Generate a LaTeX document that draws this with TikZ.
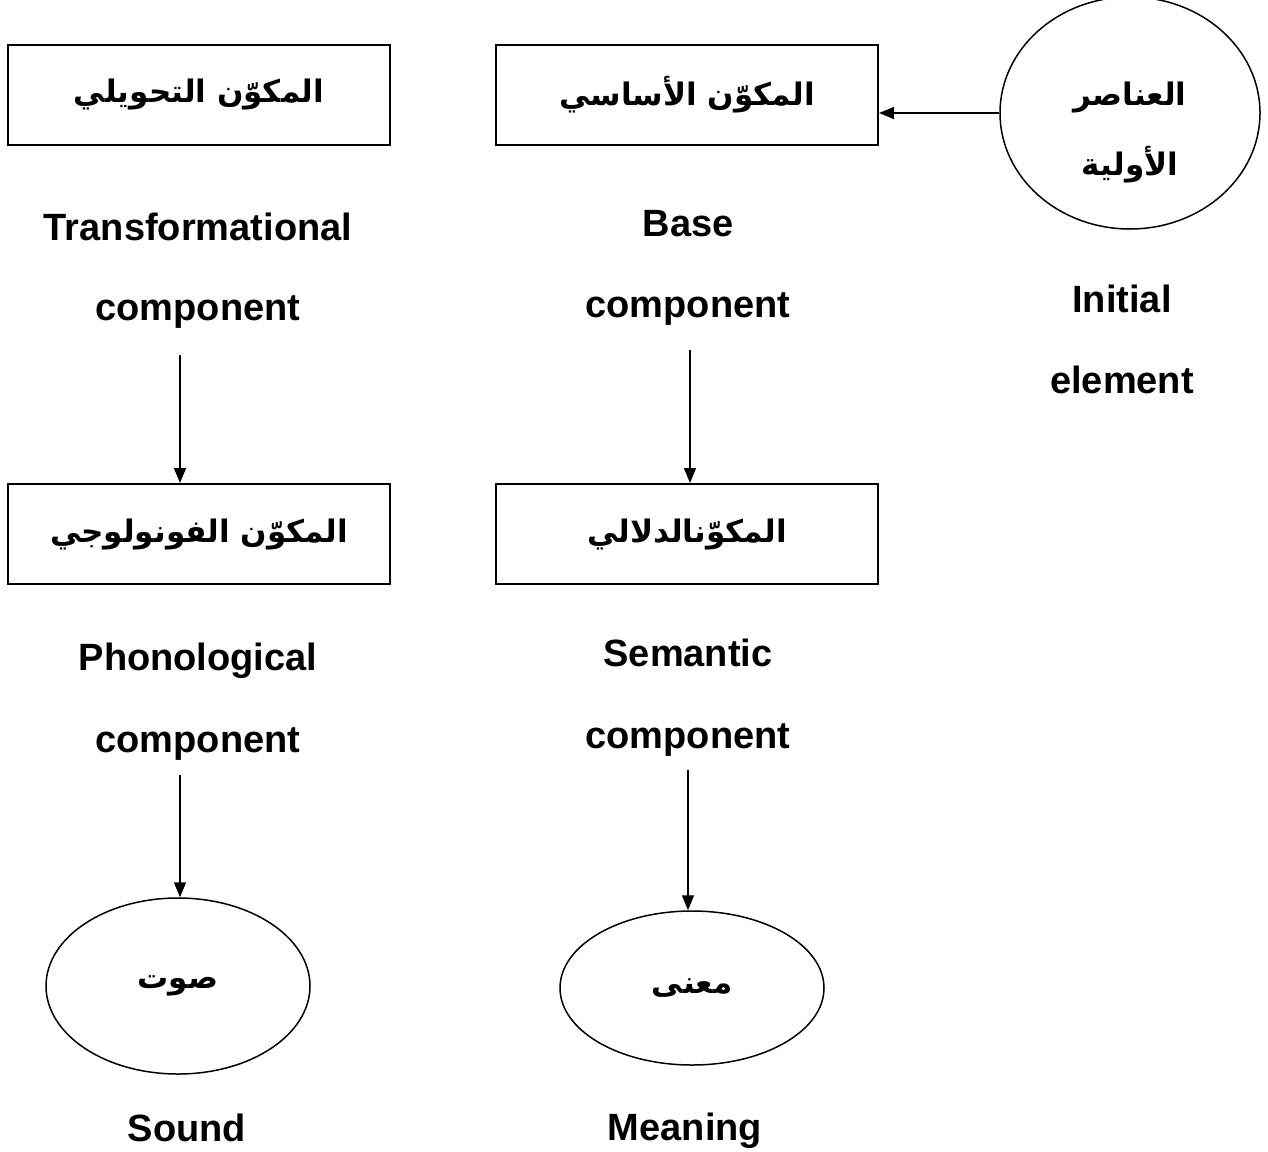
\documentclass[tikz,border=0pt]{standalone}
\usepackage{fontspec}
\setmainfont{Liberation Sans}
\newfontfamily\arabicfont[Script=Arabic]{DejaVu Sans}
\TeXXeTstate=1
\usetikzlibrary{arrows.meta,shapes.geometric}
\begin{document}
\begin{tikzpicture}[x=1pt,y=-1pt,
  box/.style={draw, line width=2pt, minimum width=382pt, minimum height=100pt, inner sep=0pt,
    font=\arabicfont\bfseries\fontsize{31}{40}\selectfont},
  oval/.style={draw, line width=1.5pt, ellipse, inner sep=0pt, align=center,
    font=\arabicfont\bfseries\fontsize{31}{70}\selectfont},
  atext/.style={inner sep=0pt, align=center, font=\arabicfont\bfseries\fontsize{31}{70}\selectfont},
  lbl/.style={anchor=base, inner sep=0pt, font=\bfseries\fontsize{38}{40}\selectfont},
  arr/.style={line width=1.5pt, -{Triangle[length=15pt,width=12pt]}}]
\useasboundingbox (0,0) rectangle (1268,1151);
% boxes
\node[box] (tra) at (199,95) {\beginR المكوّن التحويلي\endR};
\node[box] (bas) at (687,95) {\beginR المكوّن الأساسي\endR};
\node[box] (pho) at (199,534) {\beginR المكوّن الفونولوجي\endR};
\node[box] (sem) at (687,534) {\beginR المكوّنالدلالي\endR};
% ovals
\node[oval, minimum width=260pt, minimum height=232pt] (ini) at (1130,113) {};
\node[atext] (initxt) at (1130,133) {\beginR العناصر\endR\\\beginR الأولية\endR};
\node[oval, minimum width=264pt, minimum height=176pt] (snd) at (178,986) {\beginR صوت\endR};
\node[oval, minimum width=264pt, minimum height=154pt] (mea) at (692,988) {\beginR معنى\endR};
% labels
\node[lbl] (l1) at (198,240) {Transformational};
\node[lbl] (l2) at (198,320) {component};
\node[lbl] (l3) at (688,236) {Base};
\node[lbl] (l4) at (688,317) {component};
\node[lbl] (l5) at (1122,312) {Initial};
\node[lbl] (l6) at (1122,393) {element};
\node[lbl] (l7) at (198,670) {Phonological};
\node[lbl] (l8) at (198,752) {component};
\node[lbl] (l9) at (688,666) {Semantic};
\node[lbl] (l10) at (688,748) {component};
\node[lbl] (l11) at (187,1141) {Sound};
\node[lbl] (l12) at (685,1140) {Meaning};
% connectors
\draw[arr] (ini.west) -- (ini.west -| bas.east);
\coordinate (s1) at (180,355);
\draw[arr] (s1) -- (s1 |- pho.north);
\coordinate (s2) at (690,350);
\draw[arr] (s2) -- (s2 |- sem.north);
\coordinate (s3) at (180,775);
\draw[arr] (s3) -- (s3 |- snd.north);
\coordinate (s4) at (688,770);
\draw[arr] (s4) -- (s4 |- mea.north);
\end{tikzpicture}
\end{document}
